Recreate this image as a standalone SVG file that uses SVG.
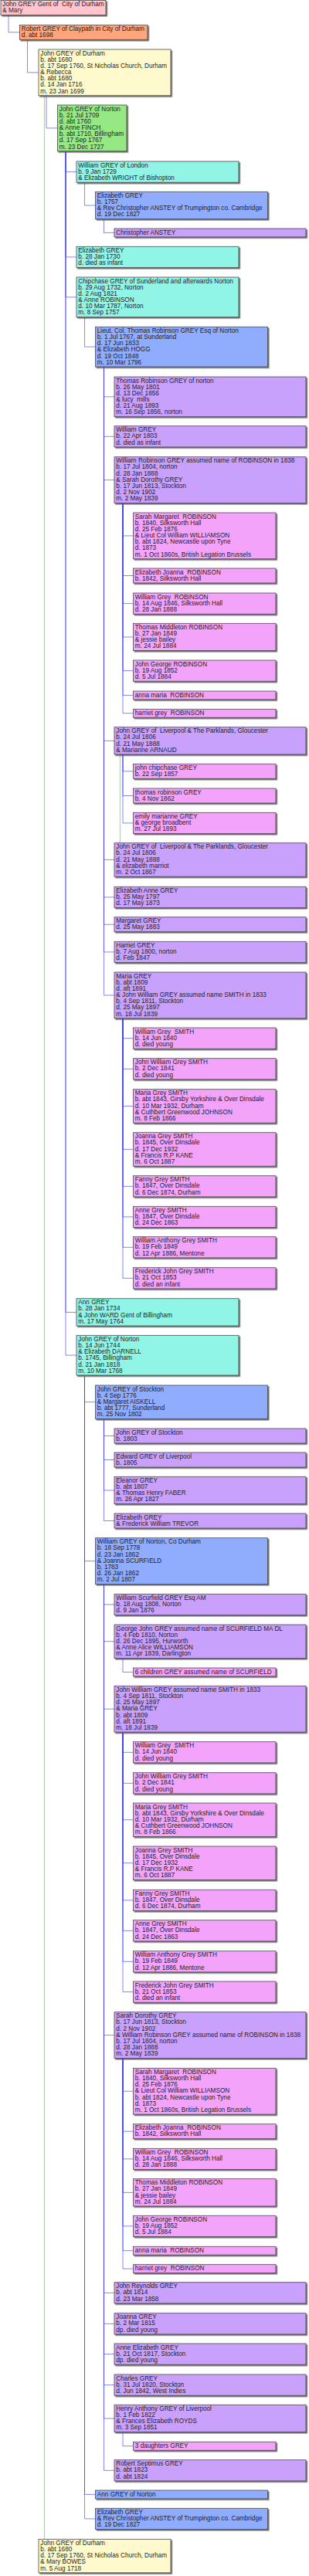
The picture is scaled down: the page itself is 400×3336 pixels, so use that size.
<svg xmlns="http://www.w3.org/2000/svg" width="400" height="3336" viewBox="0 0 400 3336">
<style>
text{font-family:"Liberation Sans",Arial,sans-serif;font-size:8.2px;fill:#1e1e28;white-space:pre}
rect{stroke:#4a4a4a;stroke-width:0.8;filter:url(#ds)}
.c0{fill:#ffc4cc}.c1{fill:#ffa57c}.c2{fill:#fffacd}.c3{fill:#96e884}.c4{fill:#90f5e5}.c5{fill:#90acff}.c6{fill:#c9a1fc}.c7{fill:#f3a3fa}
.k{fill:none;stroke:#3c3cf0;stroke-opacity:0.62;stroke-width:1}
.g{fill:none;stroke:#9de69d;stroke-width:1.3}
</style>
<defs>
<filter id="ds" x="-5%" y="-20%" width="115%" height="150%"><feDropShadow dx="1.6" dy="1.6" stdDeviation="0.4" flood-color="#555" flood-opacity="0.85"/></filter>
</defs>
<rect x="0" y="0" width="400" height="3336" style="fill:#fff;stroke:none;filter:none"/>
<g id="connectors">
<path class="g" d="M57.5,123.8V3288.3"/>
<path class="g" d="M155.5,977V1091.7"/>
<path class="k" d="M11,19.5V41.8H25.5"/>
<path class="k" d="M35.5,51.3V93.9H50"/>
<path class="k" d="M60,123.8V165.9H74.5"/>
<path class="k" d="M85,195.8V222.6H99"/>
<path class="k" d="M85,195.8V332.9H99"/>
<path class="k" d="M85,195.8V384.8H99"/>
<path class="k" d="M85,195.8V1699.4H99"/>
<path class="k" d="M85,195.8V1755.1H99"/>
<path class="k" d="M109.5,236.2V266H123.5"/>
<path class="k" d="M134.5,283.6V301.4H148"/>
<path class="k" d="M109.5,410.7V449.1H123.5"/>
<path class="k" d="M134.5,475V513.8H148"/>
<path class="k" d="M134.5,475V565.3H148"/>
<path class="k" d="M134.5,475V621.6H148"/>
<path class="k" d="M134.5,475V959.4H148"/>
<path class="k" d="M134.5,475V1113.4H148"/>
<path class="k" d="M134.5,475V1161.9H148"/>
<path class="k" d="M134.5,475V1197.2H148"/>
<path class="k" d="M134.5,475V1232.9H148"/>
<path class="k" d="M134.5,475V1288.9H148"/>
<path class="k" d="M159,651.5V693.9H172.5"/>
<path class="k" d="M159,651.5V745.5H172.5"/>
<path class="k" d="M159,651.5V781.6H172.5"/>
<path class="k" d="M159,651.5V825H172.5"/>
<path class="k" d="M159,651.5V868.6H172.5"/>
<path class="k" d="M159,651.5V900.4H172.5"/>
<path class="k" d="M159,651.5V923.7H172.5"/>
<path class="k" d="M159,977V998.8H172.5"/>
<path class="k" d="M159,977V1030.5H172.5"/>
<path class="k" d="M159,977V1065.9H172.5"/>
<path class="k" d="M159,1318.8V1344.6H172.5"/>
<path class="k" d="M159,1318.8V1384.3H172.5"/>
<path class="k" d="M159,1318.8V1432.4H172.5"/>
<path class="k" d="M159,1318.8V1488.4H172.5"/>
<path class="k" d="M159,1318.8V1536.3H172.5"/>
<path class="k" d="M159,1318.8V1575.9H172.5"/>
<path class="k" d="M159,1318.8V1615.3H172.5"/>
<path class="k" d="M159,1318.8V1655.3H172.5"/>
<path class="k" d="M109.5,1781V1815.7H123.5"/>
<path class="k" d="M109.5,1781V2021.6H123.5"/>
<path class="k" d="M109.5,1781V3230.4H123.5"/>
<path class="k" d="M109.5,1781V3261.9H123.5"/>
<path class="k" d="M134.5,1837.5V1859.5H148"/>
<path class="k" d="M134.5,1837.5V1890.5H148"/>
<path class="k" d="M134.5,1837.5V1930H148"/>
<path class="k" d="M134.5,1837.5V1969.5H148"/>
<path class="k" d="M134.5,2051.5V2077.9H148"/>
<path class="k" d="M134.5,2051.5V2125.7H148"/>
<path class="k" d="M134.5,2051.5V2213.2H148"/>
<path class="k" d="M134.5,2051.5V2635.6H148"/>
<path class="k" d="M134.5,2051.5V2969.3H148"/>
<path class="k" d="M134.5,2051.5V3009.3H148"/>
<path class="k" d="M134.5,2051.5V3048.6H148"/>
<path class="k" d="M134.5,2051.5V3088.6H148"/>
<path class="k" d="M134.5,2051.5V3132H148"/>
<path class="k" d="M134.5,2051.5V3199.3H148"/>
<path class="k" d="M159,2147.5V2165.4H172.5"/>
<path class="k" d="M159,2243.1V2269.3H172.5"/>
<path class="k" d="M159,2243.1V2309.3H172.5"/>
<path class="k" d="M159,2243.1V2356.7H172.5"/>
<path class="k" d="M159,2243.1V2412.7H172.5"/>
<path class="k" d="M159,2243.1V2460.9H172.5"/>
<path class="k" d="M159,2243.1V2500.3H172.5"/>
<path class="k" d="M159,2243.1V2540.3H172.5"/>
<path class="k" d="M159,2243.1V2579.6H172.5"/>
<path class="k" d="M159,2665.5V2708.2H172.5"/>
<path class="k" d="M159,2665.5V2760.2H172.5"/>
<path class="k" d="M159,2665.5V2795.9H172.5"/>
<path class="k" d="M159,2665.5V2839.4H172.5"/>
<path class="k" d="M159,2665.5V2882.9H172.5"/>
<path class="k" d="M159,2665.5V2914.7H172.5"/>
<path class="k" d="M159,2665.5V2938.1H172.5"/>
<path class="k" d="M159,3149.6V3167.7H172.5"/>
</g>
<g id="n1" transform="translate(1,0.5)"><rect class="c0" width="136" height="19"/><text y="7.6"><tspan x="2.3">John GREY Gent of  City of Durham</tspan><tspan x="2.3" dy="8.16">&amp; Mary</tspan></text></g>
<g id="n2" transform="translate(25.5,32.3)"><rect class="c1" width="165.5" height="19"/><text y="7.6"><tspan x="2.3">Robert GREY of Claypath in City of Durham</tspan><tspan x="2.3" dy="8.16">d. abt 1698</tspan></text></g>
<g id="n3" transform="translate(50,64)"><rect class="c2" width="171" height="59.8"/><text y="7.6"><tspan x="2.3">John GREY of Durham</tspan><tspan x="2.3" dy="8.16">b. abt 1680</tspan><tspan x="2.3" dy="8.16">d. 17 Sep 1760, St Nicholas Church, Durham</tspan><tspan x="2.3" dy="8.16">&amp; Rebecca</tspan><tspan x="2.3" dy="8.16">b. abt 1680</tspan><tspan x="2.3" dy="8.16">d. 14 Jan 1716</tspan><tspan x="2.3" dy="8.16">m. 23 Jan 1699</tspan></text></g>
<g id="n4" transform="translate(74.5,136)"><rect class="c3" width="89.5" height="59.8"/><text y="7.6"><tspan x="2.3">John GREY of Norton</tspan><tspan x="2.3" dy="8.16">b. 21 Jul 1709</tspan><tspan x="2.3" dy="8.16">d. abt 1760</tspan><tspan x="2.3" dy="8.16">&amp; Anne FINCH</tspan><tspan x="2.3" dy="8.16">b. abt 1710, Billingham</tspan><tspan x="2.3" dy="8.16">d. 17 Sep 1767</tspan><tspan x="2.3" dy="8.16">m. 23 Dec 1727</tspan></text></g>
<g id="n5" transform="translate(99,209)"><rect class="c4" width="210" height="27.2"/><text y="7.6"><tspan x="2.3">William GREY of London</tspan><tspan x="2.3" dy="8.16">b. 9 Jan 1729</tspan><tspan x="2.3" dy="8.16">&amp; Elizabeth WRIGHT of Bishopton</tspan></text></g>
<g id="n6" transform="translate(123.5,248.3)"><rect class="c5" width="223" height="35.3"/><text y="7.6"><tspan x="2.3">Elizabeth GREY</tspan><tspan x="2.3" dy="8.16">b. 1757</tspan><tspan x="2.3" dy="8.16">&amp; Rev Christopher ANSTEY of Trumpington co. Cambridge</tspan><tspan x="2.3" dy="8.16">d. 19 Dec 1827</tspan></text></g>
<g id="n7" transform="translate(148,296)"><rect class="c6" width="248" height="10.9"/><text y="7.6"><tspan x="2.3">Christopher ANSTEY</tspan></text></g>
<g id="n8" transform="translate(99,319.3)"><rect class="c4" width="210" height="27.2"/><text y="7.6"><tspan x="2.3">Elizabeth GREY</tspan><tspan x="2.3" dy="8.16">b. 28 Jan 1730</tspan><tspan x="2.3" dy="8.16">d. died as infant</tspan></text></g>
<g id="n9" transform="translate(99,359)"><rect class="c4" width="210" height="51.7"/><text y="7.6"><tspan x="2.3">Chipchase GREY of Sunderland and afterwards Norton</tspan><tspan x="2.3" dy="8.16">b. 29 Aug 1732, Norton</tspan><tspan x="2.3" dy="8.16">d. 2 Aug 1821</tspan><tspan x="2.3" dy="8.16">&amp; Anne ROBINSON</tspan><tspan x="2.3" dy="8.16">d. 10 Mar 1787, Norton</tspan><tspan x="2.3" dy="8.16">m. 8 Sep 1757</tspan></text></g>
<g id="n10" transform="translate(123.5,423.3)"><rect class="c5" width="223" height="51.7"/><text y="7.6"><tspan x="2.3">Lieut. Col. Thomas Robinson GREY Esq of Norton</tspan><tspan x="2.3" dy="8.16">b. 1 Jul 1767, at Sunderland</tspan><tspan x="2.3" dy="8.16">d. 17 Jun 1833</tspan><tspan x="2.3" dy="8.16">&amp; Elizabeth HOGG</tspan><tspan x="2.3" dy="8.16">d. 19 Oct 1848</tspan><tspan x="2.3" dy="8.16">m. 10 Mar 1796</tspan></text></g>
<g id="n11" transform="translate(148,488)"><rect class="c6" width="248" height="51.7"/><text y="7.6"><tspan x="2.3">Thomas Robinson GREY of norton</tspan><tspan x="2.3" dy="8.16">b. 26 May 1801</tspan><tspan x="2.3" dy="8.16">d. 13 Dec 1856</tspan><tspan x="2.3" dy="8.16">&amp; lucy  mills</tspan><tspan x="2.3" dy="8.16">d. 21 Aug 1893</tspan><tspan x="2.3" dy="8.16">m. 16 Sep 1856, norton</tspan></text></g>
<g id="n12" transform="translate(148,551.7)"><rect class="c6" width="248" height="27.2"/><text y="7.6"><tspan x="2.3">William GREY</tspan><tspan x="2.3" dy="8.16">b. 22 Apr 1803</tspan><tspan x="2.3" dy="8.16">d. died as infant</tspan></text></g>
<g id="n13" transform="translate(148,591.7)"><rect class="c6" width="248" height="59.8"/><text y="7.6"><tspan x="2.3">William Robinson GREY assumed name of ROBINSON in 1838</tspan><tspan x="2.3" dy="8.16">b. 17 Jul 1804, norton</tspan><tspan x="2.3" dy="8.16">d. 28 Jan 1888</tspan><tspan x="2.3" dy="8.16">&amp; Sarah Dorothy GREY</tspan><tspan x="2.3" dy="8.16">b. 17 Jun 1813, Stockton</tspan><tspan x="2.3" dy="8.16">d. 2 Nov 1902</tspan><tspan x="2.3" dy="8.16">m. 2 May 1839</tspan></text></g>
<g id="n14" transform="translate(172.5,664)"><rect class="c7" width="184.5" height="59.8"/><text y="7.6"><tspan x="2.3">Sarah Margaret  ROBINSON</tspan><tspan x="2.3" dy="8.16">b. 1840, Silksworth Hall</tspan><tspan x="2.3" dy="8.16">d. 25 Feb 1876</tspan><tspan x="2.3" dy="8.16">&amp; Lieut Col William WILLIAMSON</tspan><tspan x="2.3" dy="8.16">b. abt 1824, Newcastle upon Tyne</tspan><tspan x="2.3" dy="8.16">d. 1873</tspan><tspan x="2.3" dy="8.16">m. 1 Oct 1860s, British Legation Brussels</tspan></text></g>
<g id="n15" transform="translate(172.5,736)"><rect class="c7" width="184.5" height="19"/><text y="7.6"><tspan x="2.3">Elizabeth Joanna  ROBINSON</tspan><tspan x="2.3" dy="8.16">b. 1842, Silksworth Hall</tspan></text></g>
<g id="n16" transform="translate(172.5,768)"><rect class="c7" width="184.5" height="27.2"/><text y="7.6"><tspan x="2.3">William Grey  ROBINSON</tspan><tspan x="2.3" dy="8.16">b. 14 Aug 1846, Silksworth Hall</tspan><tspan x="2.3" dy="8.16">d. 28 Jan 1888</tspan></text></g>
<g id="n17" transform="translate(172.5,807.3)"><rect class="c7" width="184.5" height="35.3"/><text y="7.6"><tspan x="2.3">Thomas Middleton ROBINSON</tspan><tspan x="2.3" dy="8.16">b. 27 Jan 1849</tspan><tspan x="2.3" dy="8.16">&amp; jessie bailey</tspan><tspan x="2.3" dy="8.16">m. 24 Jul 1884</tspan></text></g>
<g id="n18" transform="translate(172.5,855)"><rect class="c7" width="184.5" height="27.2"/><text y="7.6"><tspan x="2.3">John George ROBINSON</tspan><tspan x="2.3" dy="8.16">b. 19 Aug 1852</tspan><tspan x="2.3" dy="8.16">d. 5 Jul 1884</tspan></text></g>
<g id="n19" transform="translate(172.5,895)"><rect class="c7" width="184.5" height="10.9"/><text y="7.6"><tspan x="2.3">anna maria  ROBINSON</tspan></text></g>
<g id="n20" transform="translate(172.5,918.3)"><rect class="c7" width="184.5" height="10.9"/><text y="7.6"><tspan x="2.3">harriet grey  ROBINSON</tspan></text></g>
<g id="n21" transform="translate(148,941.7)"><rect class="c6" width="248" height="35.3"/><text y="7.6"><tspan x="2.3">John GREY of  Liverpool &amp; The Parklands, Gloucester</tspan><tspan x="2.3" dy="8.16">b. 24 Jul 1806</tspan><tspan x="2.3" dy="8.16">d. 21 May 1888</tspan><tspan x="2.3" dy="8.16">&amp; Marianne ARNAUD</tspan></text></g>
<g id="n22" transform="translate(172.5,989.3)"><rect class="c7" width="184.5" height="19"/><text y="7.6"><tspan x="2.3">john chipchase GREY</tspan><tspan x="2.3" dy="8.16">b. 22 Sep 1857</tspan></text></g>
<g id="n23" transform="translate(172.5,1021)"><rect class="c7" width="184.5" height="19"/><text y="7.6"><tspan x="2.3">thomas robinson GREY</tspan><tspan x="2.3" dy="8.16">b. 4 Nov 1862</tspan></text></g>
<g id="n24" transform="translate(172.5,1052.3)"><rect class="c7" width="184.5" height="27.2"/><text y="7.6"><tspan x="2.3">emily marianne GREY</tspan><tspan x="2.3" dy="8.16">&amp; george broadbent</tspan><tspan x="2.3" dy="8.16">m. 27 Jul 1893</tspan></text></g>
<g id="n25" transform="translate(148,1091.7)"><rect class="c6" width="248" height="43.5"/><text y="7.6"><tspan x="2.3">John GREY of  Liverpool &amp; The Parklands, Gloucester</tspan><tspan x="2.3" dy="8.16">b. 24 Jul 1806</tspan><tspan x="2.3" dy="8.16">d. 21 May 1888</tspan><tspan x="2.3" dy="8.16">&amp; elizabeth marriot</tspan><tspan x="2.3" dy="8.16">m. 2 Oct 1867</tspan></text></g>
<g id="n26" transform="translate(148,1148.3)"><rect class="c6" width="248" height="27.2"/><text y="7.6"><tspan x="2.3">Elizabeth Anne GREY</tspan><tspan x="2.3" dy="8.16">b. 25 May 1797</tspan><tspan x="2.3" dy="8.16">d. 17 May 1873</tspan></text></g>
<g id="n27" transform="translate(148,1187.7)"><rect class="c6" width="248" height="19"/><text y="7.6"><tspan x="2.3">Margaret GREY</tspan><tspan x="2.3" dy="8.16">d. 25 May 1883</tspan></text></g>
<g id="n28" transform="translate(148,1219.3)"><rect class="c6" width="248" height="27.2"/><text y="7.6"><tspan x="2.3">Harriet GREY</tspan><tspan x="2.3" dy="8.16">b. 7 Aug 1800, norton</tspan><tspan x="2.3" dy="8.16">d. Feb 1847</tspan></text></g>
<g id="n29" transform="translate(148,1259)"><rect class="c6" width="248" height="59.8"/><text y="7.6"><tspan x="2.3">Maria GREY</tspan><tspan x="2.3" dy="8.16">b. abt 1809</tspan><tspan x="2.3" dy="8.16">d. aft 1891</tspan><tspan x="2.3" dy="8.16">&amp; John William GREY assumed name SMITH in 1833</tspan><tspan x="2.3" dy="8.16">b. 4 Sep 1811, Stockton</tspan><tspan x="2.3" dy="8.16">d. 25 May 1897</tspan><tspan x="2.3" dy="8.16">m. 18 Jul 1839</tspan></text></g>
<g id="n30" transform="translate(172.5,1331)"><rect class="c7" width="184.5" height="27.2"/><text y="7.6"><tspan x="2.3">William Grey  SMITH</tspan><tspan x="2.3" dy="8.16">b. 14 Jun 1840</tspan><tspan x="2.3" dy="8.16">d. died young</tspan></text></g>
<g id="n31" transform="translate(172.5,1370.7)"><rect class="c7" width="184.5" height="27.2"/><text y="7.6"><tspan x="2.3">John William Grey SMITH</tspan><tspan x="2.3" dy="8.16">b. 2 Dec 1841</tspan><tspan x="2.3" dy="8.16">d. died young</tspan></text></g>
<g id="n32" transform="translate(172.5,1410.7)"><rect class="c7" width="184.5" height="43.5"/><text y="7.6"><tspan x="2.3">Maria Grey SMITH</tspan><tspan x="2.3" dy="8.16">b. abt 1843, Girsby Yorkshire &amp; Over Dinsdale</tspan><tspan x="2.3" dy="8.16">d. 10 Mar 1932, Durham</tspan><tspan x="2.3" dy="8.16">&amp; Cuthbert Greenwood JOHNSON</tspan><tspan x="2.3" dy="8.16">m. 8 Feb 1866</tspan></text></g>
<g id="n33" transform="translate(172.5,1466.7)"><rect class="c7" width="184.5" height="43.5"/><text y="7.6"><tspan x="2.3">Joanna Grey SMITH</tspan><tspan x="2.3" dy="8.16">b. 1845, Over Dinsdale</tspan><tspan x="2.3" dy="8.16">d. 17 Dec 1932</tspan><tspan x="2.3" dy="8.16">&amp; Francis R.P KANE</tspan><tspan x="2.3" dy="8.16">m. 6 Oct 1887</tspan></text></g>
<g id="n34" transform="translate(172.5,1522.7)"><rect class="c7" width="184.5" height="27.2"/><text y="7.6"><tspan x="2.3">Fanny Grey SMITH</tspan><tspan x="2.3" dy="8.16">b. 1847, Over Dinsdale</tspan><tspan x="2.3" dy="8.16">d. 6 Dec 1874, Durham</tspan></text></g>
<g id="n35" transform="translate(172.5,1562.3)"><rect class="c7" width="184.5" height="27.2"/><text y="7.6"><tspan x="2.3">Anne Grey SMITH</tspan><tspan x="2.3" dy="8.16">b. 1847, Over Dinsdale</tspan><tspan x="2.3" dy="8.16">d. 24 Dec 1863</tspan></text></g>
<g id="n36" transform="translate(172.5,1601.7)"><rect class="c7" width="184.5" height="27.2"/><text y="7.6"><tspan x="2.3">William Anthony Grey SMITH</tspan><tspan x="2.3" dy="8.16">b. 19 Feb 1849</tspan><tspan x="2.3" dy="8.16">d. 12 Apr 1886, Mentone</tspan></text></g>
<g id="n37" transform="translate(172.5,1641.7)"><rect class="c7" width="184.5" height="27.2"/><text y="7.6"><tspan x="2.3">Frederick John Grey SMITH</tspan><tspan x="2.3" dy="8.16">b. 21 Oct 1853</tspan><tspan x="2.3" dy="8.16">d. died an infant</tspan></text></g>
<g id="n38" transform="translate(99,1681.7)"><rect class="c4" width="210" height="35.3"/><text y="7.6"><tspan x="2.3">Ann GREY</tspan><tspan x="2.3" dy="8.16">b. 28 Jan 1734</tspan><tspan x="2.3" dy="8.16">&amp; John WARD Gent of Billingham</tspan><tspan x="2.3" dy="8.16">m. 17 May 1764</tspan></text></g>
<g id="n39" transform="translate(99,1729.3)"><rect class="c4" width="210" height="51.7"/><text y="7.6"><tspan x="2.3">John GREY of Norton</tspan><tspan x="2.3" dy="8.16">b. 14 Jun 1744</tspan><tspan x="2.3" dy="8.16">&amp; Elizabeth DARNELL</tspan><tspan x="2.3" dy="8.16">b. 1745, Billingham</tspan><tspan x="2.3" dy="8.16">d. 21 Jan 1818</tspan><tspan x="2.3" dy="8.16">m. 10 Mar 1768</tspan></text></g>
<g id="n40" transform="translate(123.5,1794)"><rect class="c5" width="223" height="43.5"/><text y="7.6"><tspan x="2.3">John GREY of Stockton</tspan><tspan x="2.3" dy="8.16">b. 4 Sep 1776</tspan><tspan x="2.3" dy="8.16">&amp; Margaret AISKELL</tspan><tspan x="2.3" dy="8.16">b. abt 1777, Sunderland</tspan><tspan x="2.3" dy="8.16">m. 25 Nov 1802</tspan></text></g>
<g id="n41" transform="translate(148,1850)"><rect class="c6" width="248" height="19"/><text y="7.6"><tspan x="2.3">John GREY of Stockton</tspan><tspan x="2.3" dy="8.16">b. 1803</tspan></text></g>
<g id="n42" transform="translate(148,1881)"><rect class="c6" width="248" height="19"/><text y="7.6"><tspan x="2.3">Edward GREY of Liverpool</tspan><tspan x="2.3" dy="8.16">b. 1805</tspan></text></g>
<g id="n43" transform="translate(148,1912.3)"><rect class="c6" width="248" height="35.3"/><text y="7.6"><tspan x="2.3">Eleanor GREY</tspan><tspan x="2.3" dy="8.16">b. abt 1807</tspan><tspan x="2.3" dy="8.16">&amp; Thomas Henry FABER</tspan><tspan x="2.3" dy="8.16">m. 26 Apr 1827</tspan></text></g>
<g id="n44" transform="translate(148,1960)"><rect class="c6" width="248" height="19"/><text y="7.6"><tspan x="2.3">Elizabeth GREY</tspan><tspan x="2.3" dy="8.16">&amp; Frederick William TREVOR</tspan></text></g>
<g id="n45" transform="translate(123.5,1991.7)"><rect class="c5" width="223" height="59.8"/><text y="7.6"><tspan x="2.3">William GREY of Norton, Co Durham</tspan><tspan x="2.3" dy="8.16">b. 18 Sep 1778</tspan><tspan x="2.3" dy="8.16">d. 23 Jan 1862</tspan><tspan x="2.3" dy="8.16">&amp; Joanna SCURFIELD</tspan><tspan x="2.3" dy="8.16">b. 1783</tspan><tspan x="2.3" dy="8.16">d. 26 Jan 1862</tspan><tspan x="2.3" dy="8.16">m. 2 Jul 1807</tspan></text></g>
<g id="n46" transform="translate(148,2064.3)"><rect class="c6" width="248" height="27.2"/><text y="7.6"><tspan x="2.3">William Scurfield GREY Esq AM</tspan><tspan x="2.3" dy="8.16">b. 18 Aug 1808, Norton</tspan><tspan x="2.3" dy="8.16">d. 9 Jan 1876</tspan></text></g>
<g id="n47" transform="translate(148,2104)"><rect class="c6" width="248" height="43.5"/><text y="7.6"><tspan x="2.3">George John GREY assumed name of SCURFIELD MA DL</tspan><tspan x="2.3" dy="8.16">b. 4 Feb 1810, Norton</tspan><tspan x="2.3" dy="8.16">d. 26 Dec 1895, Hurworth</tspan><tspan x="2.3" dy="8.16">&amp; Anne Alice WILLIAMSON</tspan><tspan x="2.3" dy="8.16">m. 11 Apr 1839, Darlington</tspan></text></g>
<g id="n48" transform="translate(172.5,2160)"><rect class="c7" width="184.5" height="10.9"/><text y="7.6"><tspan x="2.3">6 children GREY assumed name of SCURFIELD</tspan></text></g>
<g id="n49" transform="translate(148,2183.3)"><rect class="c6" width="248" height="59.8"/><text y="7.6"><tspan x="2.3">John William GREY assumed name SMITH in 1833</tspan><tspan x="2.3" dy="8.16">b. 4 Sep 1811, Stockton</tspan><tspan x="2.3" dy="8.16">d. 25 May 1897</tspan><tspan x="2.3" dy="8.16">&amp; Maria GREY</tspan><tspan x="2.3" dy="8.16">b. abt 1809</tspan><tspan x="2.3" dy="8.16">d. aft 1891</tspan><tspan x="2.3" dy="8.16">m. 18 Jul 1839</tspan></text></g>
<g id="n50" transform="translate(172.5,2255.7)"><rect class="c7" width="184.5" height="27.2"/><text y="7.6"><tspan x="2.3">William Grey  SMITH</tspan><tspan x="2.3" dy="8.16">b. 14 Jun 1840</tspan><tspan x="2.3" dy="8.16">d. died young</tspan></text></g>
<g id="n51" transform="translate(172.5,2295.7)"><rect class="c7" width="184.5" height="27.2"/><text y="7.6"><tspan x="2.3">John William Grey SMITH</tspan><tspan x="2.3" dy="8.16">b. 2 Dec 1841</tspan><tspan x="2.3" dy="8.16">d. died young</tspan></text></g>
<g id="n52" transform="translate(172.5,2335)"><rect class="c7" width="184.5" height="43.5"/><text y="7.6"><tspan x="2.3">Maria Grey SMITH</tspan><tspan x="2.3" dy="8.16">b. abt 1843, Girsby Yorkshire &amp; Over Dinsdale</tspan><tspan x="2.3" dy="8.16">d. 10 Mar 1932, Durham</tspan><tspan x="2.3" dy="8.16">&amp; Cuthbert Greenwood JOHNSON</tspan><tspan x="2.3" dy="8.16">m. 8 Feb 1866</tspan></text></g>
<g id="n53" transform="translate(172.5,2391)"><rect class="c7" width="184.5" height="43.5"/><text y="7.6"><tspan x="2.3">Joanna Grey SMITH</tspan><tspan x="2.3" dy="8.16">b. 1845, Over Dinsdale</tspan><tspan x="2.3" dy="8.16">d. 17 Dec 1932</tspan><tspan x="2.3" dy="8.16">&amp; Francis R.P KANE</tspan><tspan x="2.3" dy="8.16">m. 6 Oct 1887</tspan></text></g>
<g id="n54" transform="translate(172.5,2447.3)"><rect class="c7" width="184.5" height="27.2"/><text y="7.6"><tspan x="2.3">Fanny Grey SMITH</tspan><tspan x="2.3" dy="8.16">b. 1847, Over Dinsdale</tspan><tspan x="2.3" dy="8.16">d. 6 Dec 1874, Durham</tspan></text></g>
<g id="n55" transform="translate(172.5,2486.7)"><rect class="c7" width="184.5" height="27.2"/><text y="7.6"><tspan x="2.3">Anne Grey SMITH</tspan><tspan x="2.3" dy="8.16">b. 1847, Over Dinsdale</tspan><tspan x="2.3" dy="8.16">d. 24 Dec 1863</tspan></text></g>
<g id="n56" transform="translate(172.5,2526.7)"><rect class="c7" width="184.5" height="27.2"/><text y="7.6"><tspan x="2.3">William Anthony Grey SMITH</tspan><tspan x="2.3" dy="8.16">b. 19 Feb 1849</tspan><tspan x="2.3" dy="8.16">d. 12 Apr 1886, Mentone</tspan></text></g>
<g id="n57" transform="translate(172.5,2566)"><rect class="c7" width="184.5" height="27.2"/><text y="7.6"><tspan x="2.3">Frederick John Grey SMITH</tspan><tspan x="2.3" dy="8.16">b. 21 Oct 1853</tspan><tspan x="2.3" dy="8.16">d. died an infant</tspan></text></g>
<g id="n58" transform="translate(148,2605.7)"><rect class="c6" width="248" height="59.8"/><text y="7.6"><tspan x="2.3">Sarah Dorothy GREY</tspan><tspan x="2.3" dy="8.16">b. 17 Jun 1813, Stockton</tspan><tspan x="2.3" dy="8.16">d. 2 Nov 1902</tspan><tspan x="2.3" dy="8.16">&amp; William Robinson GREY assumed name of ROBINSON in 1838</tspan><tspan x="2.3" dy="8.16">b. 17 Jul 1804, norton</tspan><tspan x="2.3" dy="8.16">d. 28 Jan 1888</tspan><tspan x="2.3" dy="8.16">m. 2 May 1839</tspan></text></g>
<g id="n59" transform="translate(172.5,2678.3)"><rect class="c7" width="184.5" height="59.8"/><text y="7.6"><tspan x="2.3">Sarah Margaret  ROBINSON</tspan><tspan x="2.3" dy="8.16">b. 1840, Silksworth Hall</tspan><tspan x="2.3" dy="8.16">d. 25 Feb 1876</tspan><tspan x="2.3" dy="8.16">&amp; Lieut Col William WILLIAMSON</tspan><tspan x="2.3" dy="8.16">b. abt 1824, Newcastle upon Tyne</tspan><tspan x="2.3" dy="8.16">d. 1873</tspan><tspan x="2.3" dy="8.16">m. 1 Oct 1860s, British Legation Brussels</tspan></text></g>
<g id="n60" transform="translate(172.5,2750.7)"><rect class="c7" width="184.5" height="19"/><text y="7.6"><tspan x="2.3">Elizabeth Joanna  ROBINSON</tspan><tspan x="2.3" dy="8.16">b. 1842, Silksworth Hall</tspan></text></g>
<g id="n61" transform="translate(172.5,2782.3)"><rect class="c7" width="184.5" height="27.2"/><text y="7.6"><tspan x="2.3">William Grey  ROBINSON</tspan><tspan x="2.3" dy="8.16">b. 14 Aug 1846, Silksworth Hall</tspan><tspan x="2.3" dy="8.16">d. 28 Jan 1888</tspan></text></g>
<g id="n62" transform="translate(172.5,2821.7)"><rect class="c7" width="184.5" height="35.3"/><text y="7.6"><tspan x="2.3">Thomas Middleton ROBINSON</tspan><tspan x="2.3" dy="8.16">b. 27 Jan 1849</tspan><tspan x="2.3" dy="8.16">&amp; jessie bailey</tspan><tspan x="2.3" dy="8.16">m. 24 Jul 1884</tspan></text></g>
<g id="n63" transform="translate(172.5,2869.3)"><rect class="c7" width="184.5" height="27.2"/><text y="7.6"><tspan x="2.3">John George ROBINSON</tspan><tspan x="2.3" dy="8.16">b. 19 Aug 1852</tspan><tspan x="2.3" dy="8.16">d. 5 Jul 1884</tspan></text></g>
<g id="n64" transform="translate(172.5,2909.3)"><rect class="c7" width="184.5" height="10.9"/><text y="7.6"><tspan x="2.3">anna maria  ROBINSON</tspan></text></g>
<g id="n65" transform="translate(172.5,2932.7)"><rect class="c7" width="184.5" height="10.9"/><text y="7.6"><tspan x="2.3">harriet grey  ROBINSON</tspan></text></g>
<g id="n66" transform="translate(148,2955.7)"><rect class="c6" width="248" height="27.2"/><text y="7.6"><tspan x="2.3">John Reynolds GREY</tspan><tspan x="2.3" dy="8.16">b. abt 1814</tspan><tspan x="2.3" dy="8.16">d. 23 Mar 1858</tspan></text></g>
<g id="n67" transform="translate(148,2995.7)"><rect class="c6" width="248" height="27.2"/><text y="7.6"><tspan x="2.3">Joanna GREY</tspan><tspan x="2.3" dy="8.16">b. 2 Mar 1815</tspan><tspan x="2.3" dy="8.16">dp. died young</tspan></text></g>
<g id="n68" transform="translate(148,3035)"><rect class="c6" width="248" height="27.2"/><text y="7.6"><tspan x="2.3">Anne Elizabeth GREY</tspan><tspan x="2.3" dy="8.16">b. 21 Oct 1817, Stockton</tspan><tspan x="2.3" dy="8.16">dp. died young</tspan></text></g>
<g id="n69" transform="translate(148,3075)"><rect class="c6" width="248" height="27.2"/><text y="7.6"><tspan x="2.3">Charles GREY</tspan><tspan x="2.3" dy="8.16">b. 31 Jul 1820, Stockton</tspan><tspan x="2.3" dy="8.16">d. Jun 1842, West Indies</tspan></text></g>
<g id="n70" transform="translate(148,3114.3)"><rect class="c6" width="248" height="35.3"/><text y="7.6"><tspan x="2.3">Henry Anthony GREY of Liverpool</tspan><tspan x="2.3" dy="8.16">b. 1 Feb 1822</tspan><tspan x="2.3" dy="8.16">&amp; Frances Elizabeth ROYDS</tspan><tspan x="2.3" dy="8.16">m. 3 Sep 1851</tspan></text></g>
<g id="n71" transform="translate(172.5,3162.3)"><rect class="c7" width="184.5" height="10.9"/><text y="7.6"><tspan x="2.3">3 daughters GREY</tspan></text></g>
<g id="n72" transform="translate(148,3185.7)"><rect class="c6" width="248" height="27.2"/><text y="7.6"><tspan x="2.3">Robert Septimus GREY</tspan><tspan x="2.3" dy="8.16">b. abt 1823</tspan><tspan x="2.3" dy="8.16">d. abt 1824</tspan></text></g>
<g id="n73" transform="translate(123.5,3225)"><rect class="c5" width="223" height="10.9"/><text y="7.6"><tspan x="2.3">Ann GREY of Norton</tspan></text></g>
<g id="n74" transform="translate(123.5,3248.3)"><rect class="c5" width="223" height="27.2"/><text y="7.6"><tspan x="2.3">Elizabeth GREY</tspan><tspan x="2.3" dy="8.16">&amp; Rev Christopher ANSTEY of Trumpington co. Cambridge</tspan><tspan x="2.3" dy="8.16">d. 19 Dec 1827</tspan></text></g>
<g id="n75" transform="translate(50,3288.3)"><rect class="c2" width="171" height="43.5"/><text y="7.6"><tspan x="2.3">John GREY of Durham</tspan><tspan x="2.3" dy="8.16">b. abt 1680</tspan><tspan x="2.3" dy="8.16">d. 17 Sep 1760, St Nicholas Church, Durham</tspan><tspan x="2.3" dy="8.16">&amp; Mary BOWES</tspan><tspan x="2.3" dy="8.16">m. 5 Aug 1718</tspan></text></g>
</svg>
